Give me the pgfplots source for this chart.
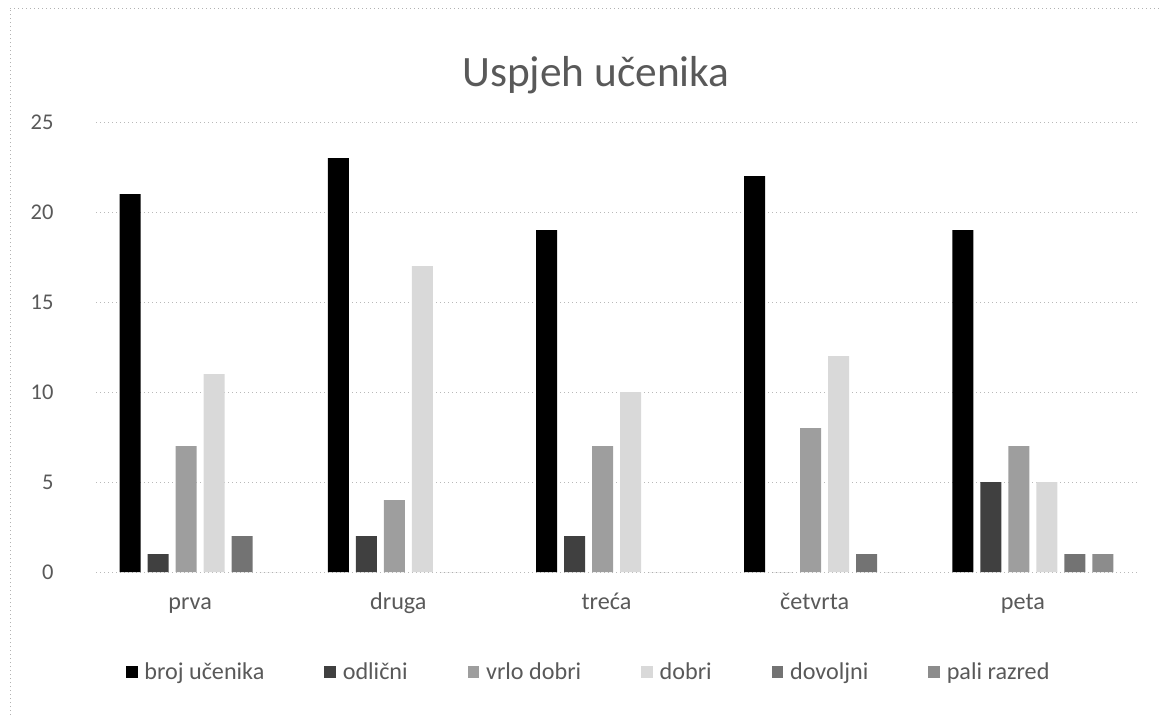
\documentclass[border=0pt]{standalone}
\usepackage{fontspec}
\setmainfont{Carlito}
\usepackage{pgfplots}
\pgfplotsset{compat=1.18}
\definecolor{txt}{gray}{0.35}
\definecolor{cA}{gray}{0.0}
\definecolor{cB}{gray}{0.25}
\definecolor{cC}{gray}{0.62}
\definecolor{cD}{gray}{0.85}
\definecolor{cE}{gray}{0.45}
\definecolor{cF}{gray}{0.55}
\begin{document}
\begin{tikzpicture}
\path[use as bounding box] (0pt,0pt) rectangle (695.4pt,429pt);
\draw[gray!60, dotted] (6pt,424pt) -- (695.4pt,424pt);
\draw[gray!60, dotted] (6pt,0pt) -- (6pt,424pt);
\node[font=\fontsize{26}{30}\selectfont, text=txt] at (357.6pt,384pt) {Uspjeh učenika};
\begin{axis}[
  at={(57.6pt,85.8pt)}, anchor=south west,
  scale only axis, width=624.6pt, height=270pt,
  ybar=4.2pt, bar width=12.6pt,
  xmin=-0.5, xmax=4.5, ymin=0, ymax=25,
  xtick={0,1,2,3,4}, xticklabels={prva,druga,treća,četvrta,peta},
  ytick={0,5,10,15,20,25},
  major tick length=0pt,
  axis line style={draw=none},
  axis x line*=bottom, axis y line*=left,
  ymajorgrids, grid style={gray!55, dotted},
  tick label style={font=\fontsize{13.5}{15}\selectfont, text=txt},
  /pgf/number format/assume math mode=true,
  xticklabel style={font=\fontsize{14.5}{16}\selectfont, yshift=-9pt, xshift=-6pt, text height=10pt, text depth=3pt},
  yticklabel style={xshift=-22pt},
  legend style={at={(0.474,-0.222)}, anchor=center, draw=none, fill=none,
    font=\fontsize{14.5}{16}\selectfont, text=txt,
    legend columns=6,
    /tikz/every odd column/.append style={column sep=2pt},
    /tikz/every even column/.append style={column sep=34pt}},
  legend image code/.code={\fill[#1] (0pt,-3.5pt) rectangle (7pt,3.5pt);},
]
\addplot[fill=cA, draw=none] coordinates {(0,21) (1,23) (2,19) (3,22) (4,19)};
\addplot[fill=cB, draw=none] coordinates {(0,1) (1,2) (2,2) (3,0) (4,5)};
\addplot[fill=cC, draw=none] coordinates {(0,7) (1,4) (2,7) (3,8) (4,7)};
\addplot[fill=cD, draw=none] coordinates {(0,11) (1,17) (2,10) (3,12) (4,5)};
\addplot[fill=cE, draw=none] coordinates {(0,2) (1,0) (2,0) (3,1) (4,1)};
\addplot[fill=cF, draw=none] coordinates {(0,0) (1,0) (2,0) (3,0) (4,1)};
\legend{broj učenika, odlični, vrlo dobri, dobri, dovoljni, pali razred}
\end{axis}
\end{tikzpicture}
\end{document}
